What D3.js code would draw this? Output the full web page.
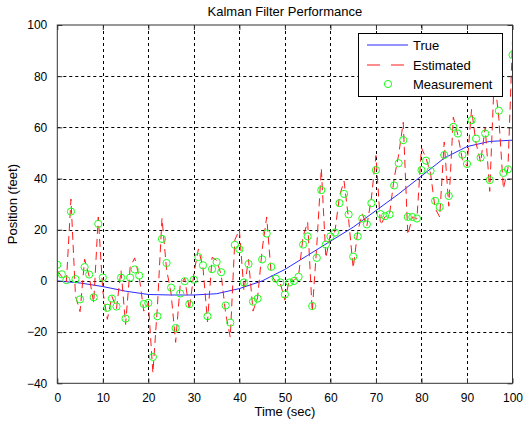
<!DOCTYPE html>
<html>
<head>
<meta charset="utf-8">
<script src="https://cdn.jsdelivr.net/npm/d3@7"></script>
<style>
  body { margin: 0; background: #fff; }
  svg { display: block; }
  text { font-family: Arial, "Liberation Sans", sans-serif; fill: #000; }
</style>
</head>
<body>
<svg id="chart" width="523" height="430"></svg>
<script>
// ---------- data ----------
const titleText = "Kalman Filter Performance";
const xLabel = "Time (sec)";
const yLabel = "Position (feet)";
const xTicks = [0, 10, 20, 30, 40, 50, 60, 70, 80, 90, 100];
const yTicks = [-40, -20, 0, 20, 40, 60, 80, 100];
const seriesNames = ["True", "Estimated", "Measurement"];

// true position (sampled every 5 s)
const trueTime = [0, 5, 10, 15, 20, 25, 30, 35, 40, 45, 50, 55, 60, 65, 70, 75, 80, 85, 90, 95, 100];
const trueValues = [0, -0.8, -2.2, -4, -5.3, -5.5, -5.5, -5, -3, 0, 4.5, 10, 15.5, 21, 27.5, 34, 41, 48, 52.5, 54.5, 55];

// measurement / estimate time (every 1 s)
const sampleTime = d3.range(0, 101);
const measValues = [
  6.3, 2.6, 0.3, 27.1, 0.7, -7.2, 5.4, 2.5, -6.4, 22.3,
  1.3, -10.5, -6.9, -10, 1.3, -14.7, 1.3, 4.5, 2.1, -9,
  -8.6, -29.7, -13.8, 16.4, 7, -2.6, -18.4, -4.9, -0.1, -9.1,
  0.5, 9.3, 6.1, -13.8, 4.6, 7.4, 3.4, -9.6, -16.3, 14.1,
  12.4, -0.6, 6.6, -8.1, -6.9, 8.4, 18.5, 5.5, 0.9, -0.6,
  -5.3, -0.6, 0, 1.6, 14.2, 17.4, -9.8, 9, 35.5, 14.2,
  17.4, 18.9, 30.4, 34, 26, 9.5, 17.4, 24.4, 22.1, 30.4,
  43.3, 26.1, 25.3, 26, 37.3, 46, 55, 25, 25, 24.4,
  43.3, 47, 43, 31.3, 28.9, 49.2, 33.2, 60.2, 57.6, 49.3,
  45.7, 62.8, 55.6, 48.2, 57.6, 39.4, 78, 66.5, 42.2, 43.6,
  88.3
];
const estValues = [
  4, 1.7, -0.3, 32, -5.9, -12, 8.5, 1.8, -8.6, 25,
  -4, -15, -6, -10.8, 4.1, -17, 5.3, 9, 1.5, -11.8,
  -8.5, -36, -9.8, 24.5, 4.6, -5, -24, -1.5, 1.1, -11.4,
  2.9, 12.5, 5.3, -16, 9.2, 8.1, 2.4, -12.9, -22, 16,
  20, -3.9, 8.4, -11.8, -6.6, 12.2, 25, 2.3, -0.3, -1,
  -7.5, 0.6, 0.2, 2, 17.4, 23, -12, 13.7, 44, 9,
  18.2, 19.3, 33.3, 39, 24, 5, 19.4, 26.2, 21.5, 32.4,
  49, 21.8, 25.1, 26.2, 40.1, 49.4, 62, 18, 25, 24.2,
  52, 48, 42, 28.4, 25, 54.3, 29.2, 64, 57, 47.3,
  44.8, 67, 53.8, 46.4, 60, 35, 80, 63.6, 36, 44,
  94
];

// ---------- layout ----------
const svg = d3.select("#chart");
const pL = 57.3, pR = 512.5, pT = 25, pB = 383.3;
const blue = "#2a2aff", red = "#ff1a1a", green = "#1aff1a";

const x = d3.scaleLinear().domain([0, 100]).range([pL, pR]);
const y = d3.scaleLinear().domain([-40, 100]).range([pB, pT]);

svg.append("rect").attr("x", 0).attr("y", 0).attr("width", 523).attr("height", 430).attr("fill", "#fff");

// grid
const grid = svg.append("g").attr("stroke", "#000").attr("stroke-width", 1).attr("stroke-dasharray", "3,3");
grid.selectAll("line.gx").data(xTicks.slice(1, -1)).enter().append("line")
  .attr("x1", d => Math.round(x(d)) + 0.5).attr("x2", d => Math.round(x(d)) + 0.5)
  .attr("y1", pT).attr("y2", pB);
grid.selectAll("line.gy").data(yTicks.slice(1, -1)).enter().append("line")
  .attr("y1", d => Math.round(y(d)) + 0.5).attr("y2", d => Math.round(y(d)) + 0.5)
  .attr("x1", pL).attr("x2", pR);

// clip
svg.append("clipPath").attr("id", "clip").append("rect")
  .attr("x", pL).attr("y", pT).attr("width", pR - pL).attr("height", pB - pT);
const plot = svg.append("g").attr("clip-path", "url(#clip)");

// true line
plot.append("path")
  .datum(trueTime.map((t, i) => [t, trueValues[i]]))
  .attr("fill", "none").attr("stroke", blue).attr("stroke-width", 1)
  .attr("d", d3.line().x(d => x(d[0])).y(d => y(d[1])));

// estimated line
plot.append("path")
  .datum(sampleTime.map((t, i) => [t, estValues[i]]))
  .attr("fill", "none").attr("stroke", red).attr("stroke-width", 1)
  .attr("stroke-dasharray", "8,5")
  .attr("d", d3.line().x(d => x(d[0])).y(d => y(d[1])));

// measurements
plot.selectAll("circle.m").data(sampleTime.map((t, i) => [t, measValues[i]])).enter().append("circle")
  .attr("cx", d => x(d[0])).attr("cy", d => y(d[1])).attr("r", 3.6)
  .attr("fill", "none").attr("stroke", green).attr("stroke-width", 1);

// axes box
const axisColor = "#333";
svg.append("rect").attr("x", pL).attr("y", pT).attr("width", pR - pL).attr("height", pB - pT)
  .attr("fill", "none").attr("stroke", axisColor).attr("stroke-width", 1);

// axes with inward ticks
const xAxis = d3.axisBottom(x).tickValues(xTicks).tickSize(-5).tickPadding(10).tickFormat(d3.format("d"));
const gx = svg.append("g").attr("transform", `translate(0,${pB})`).call(xAxis);
gx.select(".domain").remove();
gx.selectAll("line").attr("stroke", axisColor);
gx.selectAll("text").attr("font-size", 12).attr("fill", "#000");

const xAxisTop = d3.axisTop(x).tickValues(xTicks).tickSize(-5).tickFormat("");
const gxt = svg.append("g").attr("transform", `translate(0,${pT})`).call(xAxisTop);
gxt.select(".domain").remove();
gxt.selectAll("line").attr("stroke", axisColor);

const yAxis = d3.axisLeft(y).tickValues(yTicks).tickSize(-5).tickPadding(10).tickFormat(d3.format("d"));
const gy = svg.append("g").attr("transform", `translate(${pL},0)`).call(yAxis);
gy.select(".domain").remove();
gy.selectAll("line").attr("stroke", axisColor);
gy.selectAll("text").attr("font-size", 12).attr("fill", "#000");

const yAxisRight = d3.axisRight(y).tickValues(yTicks).tickSize(-5).tickFormat("");
const gyr = svg.append("g").attr("transform", `translate(${pR},0)`).call(yAxisRight);
gyr.select(".domain").remove();
gyr.selectAll("line").attr("stroke", axisColor);

// title & labels
svg.append("text").attr("x", (pL + pR) / 2).attr("y", 16).attr("text-anchor", "middle")
  .attr("font-size", 13).text(titleText);
svg.append("text").attr("x", (pL + pR) / 2).attr("y", 416).attr("text-anchor", "middle")
  .attr("font-size", 13).text(xLabel);
svg.append("text").attr("transform", `translate(17,${(pT + pB) / 2}) rotate(-90)`).attr("text-anchor", "middle")
  .attr("font-size", 13).text(yLabel);

// legend
const lg = svg.append("g");
lg.append("rect").attr("x", 358.5).attr("y", 33.5).attr("width", 144).attr("height", 63)
  .attr("fill", "#fff").attr("stroke", "#000").attr("stroke-width", 1);
const rows = [45, 65, 84];
lg.append("line").attr("x1", 367).attr("x2", 408).attr("y1", rows[0]).attr("y2", rows[0])
  .attr("stroke", blue).attr("stroke-width", 1.2);
lg.append("line").attr("x1", 367).attr("x2", 408).attr("y1", rows[1]).attr("y2", rows[1])
  .attr("stroke", red).attr("stroke-width", 1.2).attr("stroke-dasharray", "13,11");
lg.append("circle").attr("cx", 388).attr("cy", rows[2]).attr("r", 3.6)
  .attr("fill", "none").attr("stroke", green).attr("stroke-width", 1);
lg.selectAll("text.lt").data(seriesNames).enter().append("text")
  .attr("x", 413).attr("y", (d, i) => rows[i] + 5).attr("font-size", 13).text(d => d);
</script>
</body>
</html>
